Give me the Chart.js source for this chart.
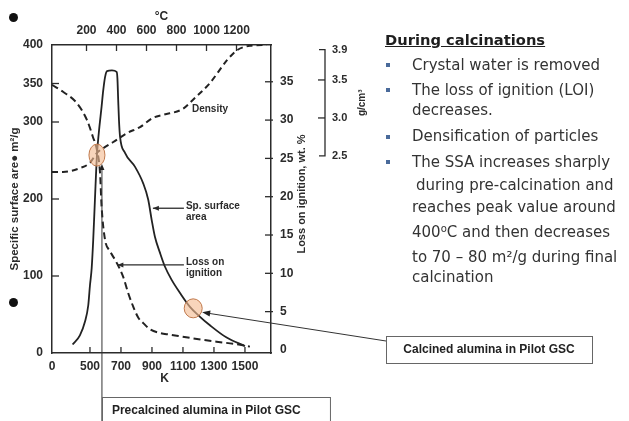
<!DOCTYPE html>
<html><head><meta charset="utf-8">
<script src="https://cdn.jsdelivr.net/npm/chart.js@4"></script>
<style>
html,body{margin:0;padding:0;background:#fff;width:629px;height:421px;overflow:hidden;}
#c{position:absolute;left:0;top:0;}
#notes{position:absolute;left:0;top:0;width:629px;height:421px;font-family:"DejaVu Sans",Verdana,sans-serif;color:#333;pointer-events:none;}
.h{position:absolute;left:385px;top:31px;font-weight:bold;font-size:14.7px;line-height:18px;text-decoration:underline;color:#1e1e1e;white-space:nowrap;}
.l{position:absolute;left:412px;font-size:15px;line-height:18px;white-space:nowrap;}
.b{position:absolute;left:386px;width:4px;height:4px;background:#4a6a9a;}
.dot{position:absolute;width:9px;height:9px;border-radius:50%;background:#111;}
sup{font-size:10px;vertical-align:5px;line-height:0;}
</style></head>
<body>
<canvas id="c" width="629" height="421"></canvas>
<div id="notes">
  <div class="dot" style="left:9px;top:13px"></div>
  <div class="dot" style="left:9px;top:298px"></div>
  <div class="h">During calcinations</div>
  <div class="b" style="top:63px"></div><div class="l" style="top:56px">Crystal water is removed</div>
  <div class="b" style="top:88px"></div><div class="l" style="top:81px">The loss of ignition (LOI)</div>
  <div class="l" style="top:101px">decreases.</div>
  <div class="b" style="top:135px"></div><div class="l" style="top:127px">Densification of particles</div>
  <div class="b" style="top:160px"></div><div class="l" style="top:153px">The SSA increases sharply</div>
  <div class="l" style="top:176px;left:416px">during pre-calcination and</div>
  <div class="l" style="top:198px">reaches peak value around</div>
  <div class="l" style="top:223px">400<sup>o</sup>C and then decreases</div>
  <div class="l" style="top:248px">to 70 – 80 m²/g during final</div>
  <div class="l" style="top:268px">calcination</div>
</div>
<script>
// ---- data ----
const kelvinSSA = [388,435,468,489,500,511,521,532,545,557,575,585,597,610,642,672,677,682,687,694,726,790,844,876,898,919,952,984,1027,1081,1145,1210,1274,1382,1500];
const ssaValues = [11,23,41,62,88,110,147,199,257,286,320,340,358,366,367,365,357,329,303,281,260,242,220,199,173,151,130,112,95,78,60,47,36,20,9];

const kelvinLOI = [255,326,416,481,519,545,565,575,597,629,672,715,747,779,812,844,887,952,1016,1145,1317,1446,1532];
const loiValues = [34.6,33.7,32.2,30.0,27.8,26.1,23.1,18.7,14.4,12.9,11.4,9.5,7.4,5.65,4.2,3.5,2.7,2.2,2.0,1.57,1.08,0.74,0.43];

const kelvinDensity = [255,326,435,500,545,584,648,739,823,906,971,1100,1165,1274,1384,1448,1532,1640];
const densityValues = [2.29,2.29,2.34,2.41,2.54,2.6,2.68,2.8,2.88,3.0,3.04,3.12,3.24,3.46,3.76,3.89,3.95,3.96];

const kelvinTicks = [500,700,900,1100,1300,1500];
const celsiusTicks = [200,400,600,800,1000,1200];
const ssaTicks = [0,100,200,300,350,400];
const loiTicks = [0,5,10,15,20,25,30,35];
const densityTicks = [2.5,3.0,3.5,3.9];

// highlighted points (K, m²/g)
const markKelvin = [545,1166];
const markSSA = [257,58];

const pts = (xs, ys) => xs.map((x,i)=>({x, y: ys[i]}));
const INK = '#2b2b2b';
const FONT = '"Liberation Sans", Arial, sans-serif';
const tickFont = {family: FONT, size: 12, weight: 'bold'};

const setTicks = vals => scale => { scale.ticks = vals.map(v => ({value: v})); };

function arrowHead(ctx, x, y, ang, len, wid){
  ctx.beginPath();
  ctx.moveTo(x, y);
  ctx.lineTo(x - len*Math.cos(ang) + wid*Math.sin(ang), y - len*Math.sin(ang) - wid*Math.cos(ang));
  ctx.lineTo(x - len*Math.cos(ang) - wid*Math.sin(ang), y - len*Math.sin(ang) + wid*Math.cos(ang));
  ctx.closePath(); ctx.fill();
}

const overlay = {
  id: 'overlay',
  afterDraw(chart){
    const {ctx, chartArea: a, scales: s} = chart;
    ctx.save();
    ctx.strokeStyle = INK; ctx.fillStyle = INK; ctx.lineWidth = 1.3;
    const line = (x1,y1,x2,y2) => { ctx.beginPath(); ctx.moveTo(x1,y1); ctx.lineTo(x2,y2); ctx.stroke(); };
    // inward tick marks
    s.x.ticks.forEach(t => { if (t.value === s.x.min) return; const p = s.x.getPixelForValue(t.value); line(p, a.bottom, p, a.bottom-6); });
    s.x2.ticks.forEach(t => { const p = s.x2.getPixelForValue(t.value); line(p, a.top, p, a.top+6); });
    s.y.ticks.forEach(t => { if (t.value === 0 || t.value === 400) return; const p = s.y.getPixelForValue(t.value); line(a.left, p, a.left+7, p); });
    s.y2.ticks.forEach(t => { if (t.value === 0) return; const p = s.y2.getPixelForValue(t.value); line(a.right-6, p, a.right+2, p); });
    // density bracket axis
    const d = s.yD, bx = d.left + 11;
    const dTop = d.getPixelForValue(densityTicks[densityTicks.length-1]);
    const dBot = d.getPixelForValue(densityTicks[0]);
    ctx.beginPath(); ctx.moveTo(bx-6, dTop); ctx.lineTo(bx, dTop); ctx.lineTo(bx, dBot); ctx.lineTo(bx-6, dBot); ctx.stroke();
    densityTicks.slice(1,-1).forEach(v => { const p = d.getPixelForValue(v); line(bx-7, p, bx, p); });

    // axis titles
    ctx.textAlign = 'center'; ctx.textBaseline = 'middle';
    ctx.font = 'bold 12px ' + FONT;
    ctx.fillText('°C', (a.left + a.right)/2, 17);
    ctx.fillText('K', (a.left + a.right)/2 + 3, 379);
    const vtext = (txt, x, y, font) => { ctx.save(); ctx.translate(x, y); ctx.rotate(-Math.PI/2); ctx.font = font; ctx.fillText(txt, 0, 0); ctx.restore(); };
    vtext('Specific surface are\u25CF m²/g', 15, (a.top + a.bottom)/2, 'bold 11.5px ' + FONT);
    vtext('Loss on ignition, wt. %', s.y2.left + 31, (a.top + a.bottom)/2 - 5, 'bold 11px ' + FONT);
    vtext('g/cm³', d.left + 48, d.getPixelForValue(3.2), 'bold 10px ' + FONT);

    // curve labels with arrows
    ctx.font = 'bold 10px ' + FONT; ctx.textAlign = 'left';
    ctx.fillText('Density', s.x.getPixelForValue(1158), d.getPixelForValue(3.12));
    const sx = s.x.getPixelForValue(1119);
    ctx.fillText('Sp. surface', sx, s.y.getPixelForValue(191));
    ctx.fillText('area', sx, s.y.getPixelForValue(176));
    let ay = s.y.getPixelForValue(188);
    line(sx - 2, ay, s.x.getPixelForValue(906), ay);
    arrowHead(ctx, s.x.getPixelForValue(906), ay, Math.PI, 6, 2.5);
    ctx.fillText('Loss on', sx, s.y2.getPixelForValue(11.5));
    ctx.fillText('ignition', sx, s.y2.getPixelForValue(10.05));
    ay = s.y2.getPixelForValue(11.1);
    line(sx - 2, ay, s.x.getPixelForValue(677), ay);
    arrowHead(ctx, s.x.getPixelForValue(677), ay, Math.PI, 6, 2.5);

    // highlight circles
    const c1x = s.x.getPixelForValue(markKelvin[0]), c1y = s.y.getPixelForValue(markSSA[0]);
    const c2x = s.x.getPixelForValue(markKelvin[1]), c2y = s.y.getPixelForValue(markSSA[1]);
    ctx.fillStyle = 'rgba(243,188,145,0.62)'; ctx.strokeStyle = '#c0794c'; ctx.lineWidth = 1;
    ctx.beginPath(); ctx.ellipse(c1x, c1y, 8, 11, 0, 0, Math.PI*2); ctx.fill(); ctx.stroke();
    ctx.beginPath(); ctx.ellipse(c2x, c2y, 9, 9.5, 0, 0, Math.PI*2); ctx.fill(); ctx.stroke();

    // callout: calcined
    ctx.strokeStyle = '#333'; ctx.fillStyle = '#222'; ctx.lineWidth = 1;
    const tipX = c2x + 9, tipY = c2y + 4;
    line(386, 341, tipX + 4, tipY + 0.6);
    arrowHead(ctx, tipX, tipY, Math.atan2(tipY - 341, tipX - 386), 8, 3);
    ctx.strokeStyle = '#666';
    ctx.strokeRect(386.5, 336.5, 206, 27);
    ctx.fillStyle = '#222'; ctx.font = 'bold 12px ' + FONT; ctx.textAlign = 'center';
    ctx.fillText('Calcined alumina in Pilot GSC', 489, 350);

    // callout: precalcined
    const vx = c1x + 5;
    ctx.strokeStyle = '#333';
    line(vx, c1y + 12, vx, 421);
    arrowHead(ctx, vx, c1y + 9, -Math.PI/2, 6, 2.5);
    ctx.strokeStyle = '#666';
    ctx.strokeRect(vx + 0.5, 397.5, 228, 30);
    ctx.textAlign = 'left'; ctx.fillStyle = '#222'; ctx.font = 'bold 12px ' + FONT;
    ctx.fillText('Precalcined alumina in Pilot GSC', vx + 10, 411);
    ctx.restore();
  }
};

const border = {display: true, color: INK, width: 1.5};
const noGrid = {display: false, drawTicks: false};

new Chart(document.getElementById('c'), {
  type: 'line',
  data: {
    datasets: [
      {label: 'Sp. surface area', data: pts(kelvinSSA, ssaValues), yAxisID: 'y', xAxisID: 'x',
       borderColor: '#222', borderWidth: 1.8, pointRadius: 0, cubicInterpolationMode: 'monotone', fill: false},
      {label: 'Loss on ignition', data: pts(kelvinLOI, loiValues), yAxisID: 'y2', xAxisID: 'x',
       borderColor: '#222', borderWidth: 2, borderDash: [7,4], pointRadius: 0, cubicInterpolationMode: 'monotone', fill: false},
      {label: 'Density', data: pts(kelvinDensity, densityValues), yAxisID: 'yD', xAxisID: 'x',
       borderColor: '#222', borderWidth: 2, borderDash: [6,4], pointRadius: 0, cubicInterpolationMode: 'monotone', fill: false}
    ]
  },
  options: {
    responsive: false, animation: false, devicePixelRatio: 1,
    layout: {padding: {left: 0, top: 0, right: 257, bottom: 0}},
    plugins: {legend: {display: false}, tooltip: {enabled: false}},
    scales: {
      x: {type: 'linear', position: 'bottom', min: 255, max: 1668,
          afterBuildTicks: scale => { scale.ticks = [255, ...kelvinTicks].map(v => ({value: v})); },
          afterFit: sc => { sc.height = 68; },
          grid: noGrid, border,
          ticks: {font: tickFont, color: INK, padding: 6, autoSkip: false, maxRotation: 0,
                  callback: v => v === 255 ? '0' : String(v)}},
      x2: {type: 'linear', position: 'top', min: -30, max: 1430,
           afterBuildTicks: setTicks(celsiusTicks),
           afterFit: sc => { sc.height = 45; },
           grid: noGrid, border,
           ticks: {font: tickFont, color: INK, padding: 7, autoSkip: false, maxRotation: 0,
                   callback: v => String(v)}},
      y: {type: 'linear', position: 'left', min: 0, max: 400,
          afterBuildTicks: setTicks(ssaTicks),
          afterFit: sc => { sc.width = 52; },
          grid: noGrid, border,
          ticks: {font: tickFont, color: INK, padding: 9, autoSkip: false, callback: v => String(v)}},
      y2: {type: 'linear', position: 'right', min: -0.4, max: 39.8,
           afterBuildTicks: setTicks(loiTicks),
           afterFit: sc => { sc.width = 43; },
           grid: noGrid, border,
           ticks: {font: tickFont, color: INK, padding: 9, autoSkip: false, callback: v => String(v)}},
      yD: {type: 'linear', position: 'right', min: -0.093, max: 3.96,
           afterBuildTicks: setTicks(densityTicks),
           afterFit: sc => { sc.width = 58; },
           grid: noGrid, border: {display: false},
           ticks: {font: {family: FONT, size: 11, weight: 'bold'}, color: INK, padding: 18, autoSkip: false,
                   callback: v => v.toFixed(1)}}
    }
  },
  plugins: [overlay]
});
</script>
</body></html>
